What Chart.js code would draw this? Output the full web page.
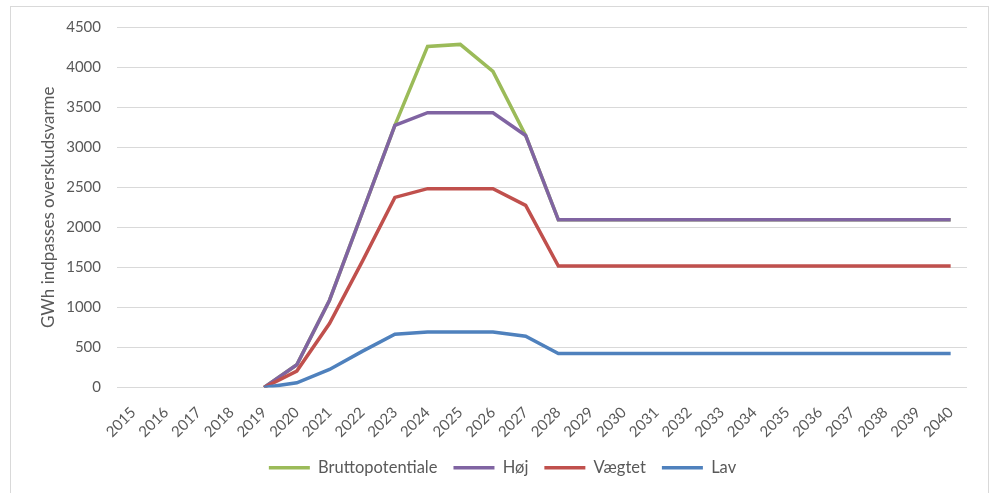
<!DOCTYPE html>
<html>
<head>
<meta charset="utf-8">
<script src="https://cdn.jsdelivr.net/npm/chart.js@4/dist/chart.umd.min.js"></script>
<style>
    body { margin: 0; background: #fff; }
    #wrap { position: relative; width: 994px; height: 493px; }
    #frame { position: absolute; left: 10px; top: 6px; width: 977px; height: 500px; border: 1px solid #d9d9d9; }
    #chart { position: absolute; left: 0; top: 0; }
</style>
</head>
<body>
<div id="wrap">
    <div id="frame"></div>
    <canvas id="chart" width="994" height="493"></canvas>
</div>
<script>
const years = ["2015", "2016", "2017", "2018", "2019", "2020", "2021", "2022", "2023", "2024", "2025", "2026", "2027",
    "2028", "2029", "2030", "2031", "2032", "2033", "2034", "2035", "2036", "2037", "2038", "2039", "2040"];
const brutto = [null, null, null, null, 0, 284, 1090, 2180, 3272, 4258, 4283, 3945, 3146,
    2093, 2093, 2093, 2093, 2093, 2093, 2093, 2093, 2093, 2093, 2093, 2093, 2093];
const hoej = [null, null, null, null, 0, 284, 1090, 2180, 3272, 3430, 3430, 3430, 3146,
    2093, 2093, 2093, 2093, 2093, 2093, 2093, 2093, 2093, 2093, 2093, 2093, 2093];
const vaegtet = [null, null, null, null, 0, 205, 798, 1571, 2373, 2482, 2482, 2482, 2273,
    1517, 1517, 1517, 1517, 1517, 1517, 1517, 1517, 1517, 1517, 1517, 1517, 1517];
const lav = [null, null, null, null, 0, 58, 225, 451, 664, 694, 694, 694, 639,
    425, 425, 425, 425, 425, 425, 425, 425, 425, 425, 425, 425, 425];
const yTicks = [0, 500, 1000, 1500, 2000, 2500, 3000, 3500, 4000, 4500];

document.addEventListener("DOMContentLoaded", () => {
    const txt = "#595959";
    const font = "Lato";

    function line(label, data, color, order) {
        return {
            label: label,
            data: data,
            borderColor: color,
            backgroundColor: color,
            borderWidth: 3.5,
            pointRadius: 0,
            tension: 0,
            order: order
        };
    }

    // nudge the legend a bit right, like the original
    const shiftLegend = {
        id: "shiftLegend",
        afterLayout(chart) {
            chart.legend.left += 14;
            chart.legend.right += 14;
        }
    };

    new Chart(document.getElementById("chart"), {
        type: "line",
        data: {
            labels: years,
            datasets: [
                line("Bruttopotentiale", brutto, "#9bbb59", 4),
                line("Høj", hoej, "#8064a2", 3),
                line("Vægtet", vaegtet, "#c0504d", 2),
                line("Lav", lav, "#4f81bd", 1)
            ]
        },
        plugins: [shiftLegend],
        options: {
            responsive: false,
            animation: false,
            layout: { padding: { left: 10, right: 27, top: 27, bottom: 7 } },
            plugins: {
                tooltip: { enabled: false },
                legend: {
                    position: "bottom",
                    labels: {
                        usePointStyle: true,
                        pointStyle: "line",
                        pointStyleWidth: 41,
                        padding: 16,
                        color: txt,
                        font: { family: font, size: 16.5 },
                        sort: (a, b) => a.datasetIndex - b.datasetIndex
                    }
                }
            },
            scales: {
                x: {
                    offset: true,
                    grid: { display: false },
                    border: { display: false },
                    ticks: {
                        color: txt,
                        font: { family: font, size: 15 },
                        minRotation: 45,
                        maxRotation: 45,
                        autoSkip: false,
                        padding: 8
                    },
                    afterFit: s => { s.height = 56; }
                },
                y: {
                    min: 0,
                    max: 4500,
                    afterBuildTicks: s => { s.ticks = yTicks.map(v => ({ value: v })); },
                    grid: { color: "#d9d9d9", lineWidth: 1, drawTicks: false },
                    border: { display: false },
                    ticks: {
                        color: txt,
                        font: { family: font, size: 15 },
                        padding: 16,
                        callback: v => String(v)
                    },
                    title: {
                        display: true,
                        text: "GWh indpasses overskudsvarme",
                        color: txt,
                        font: { family: font, size: 17, weight: "normal" },
                        padding: { top: 28, bottom: 0 }
                    },
                    afterFit: s => { s.width = 107; }
                }
            }
        }
    });
});
</script>
</body>
</html>
